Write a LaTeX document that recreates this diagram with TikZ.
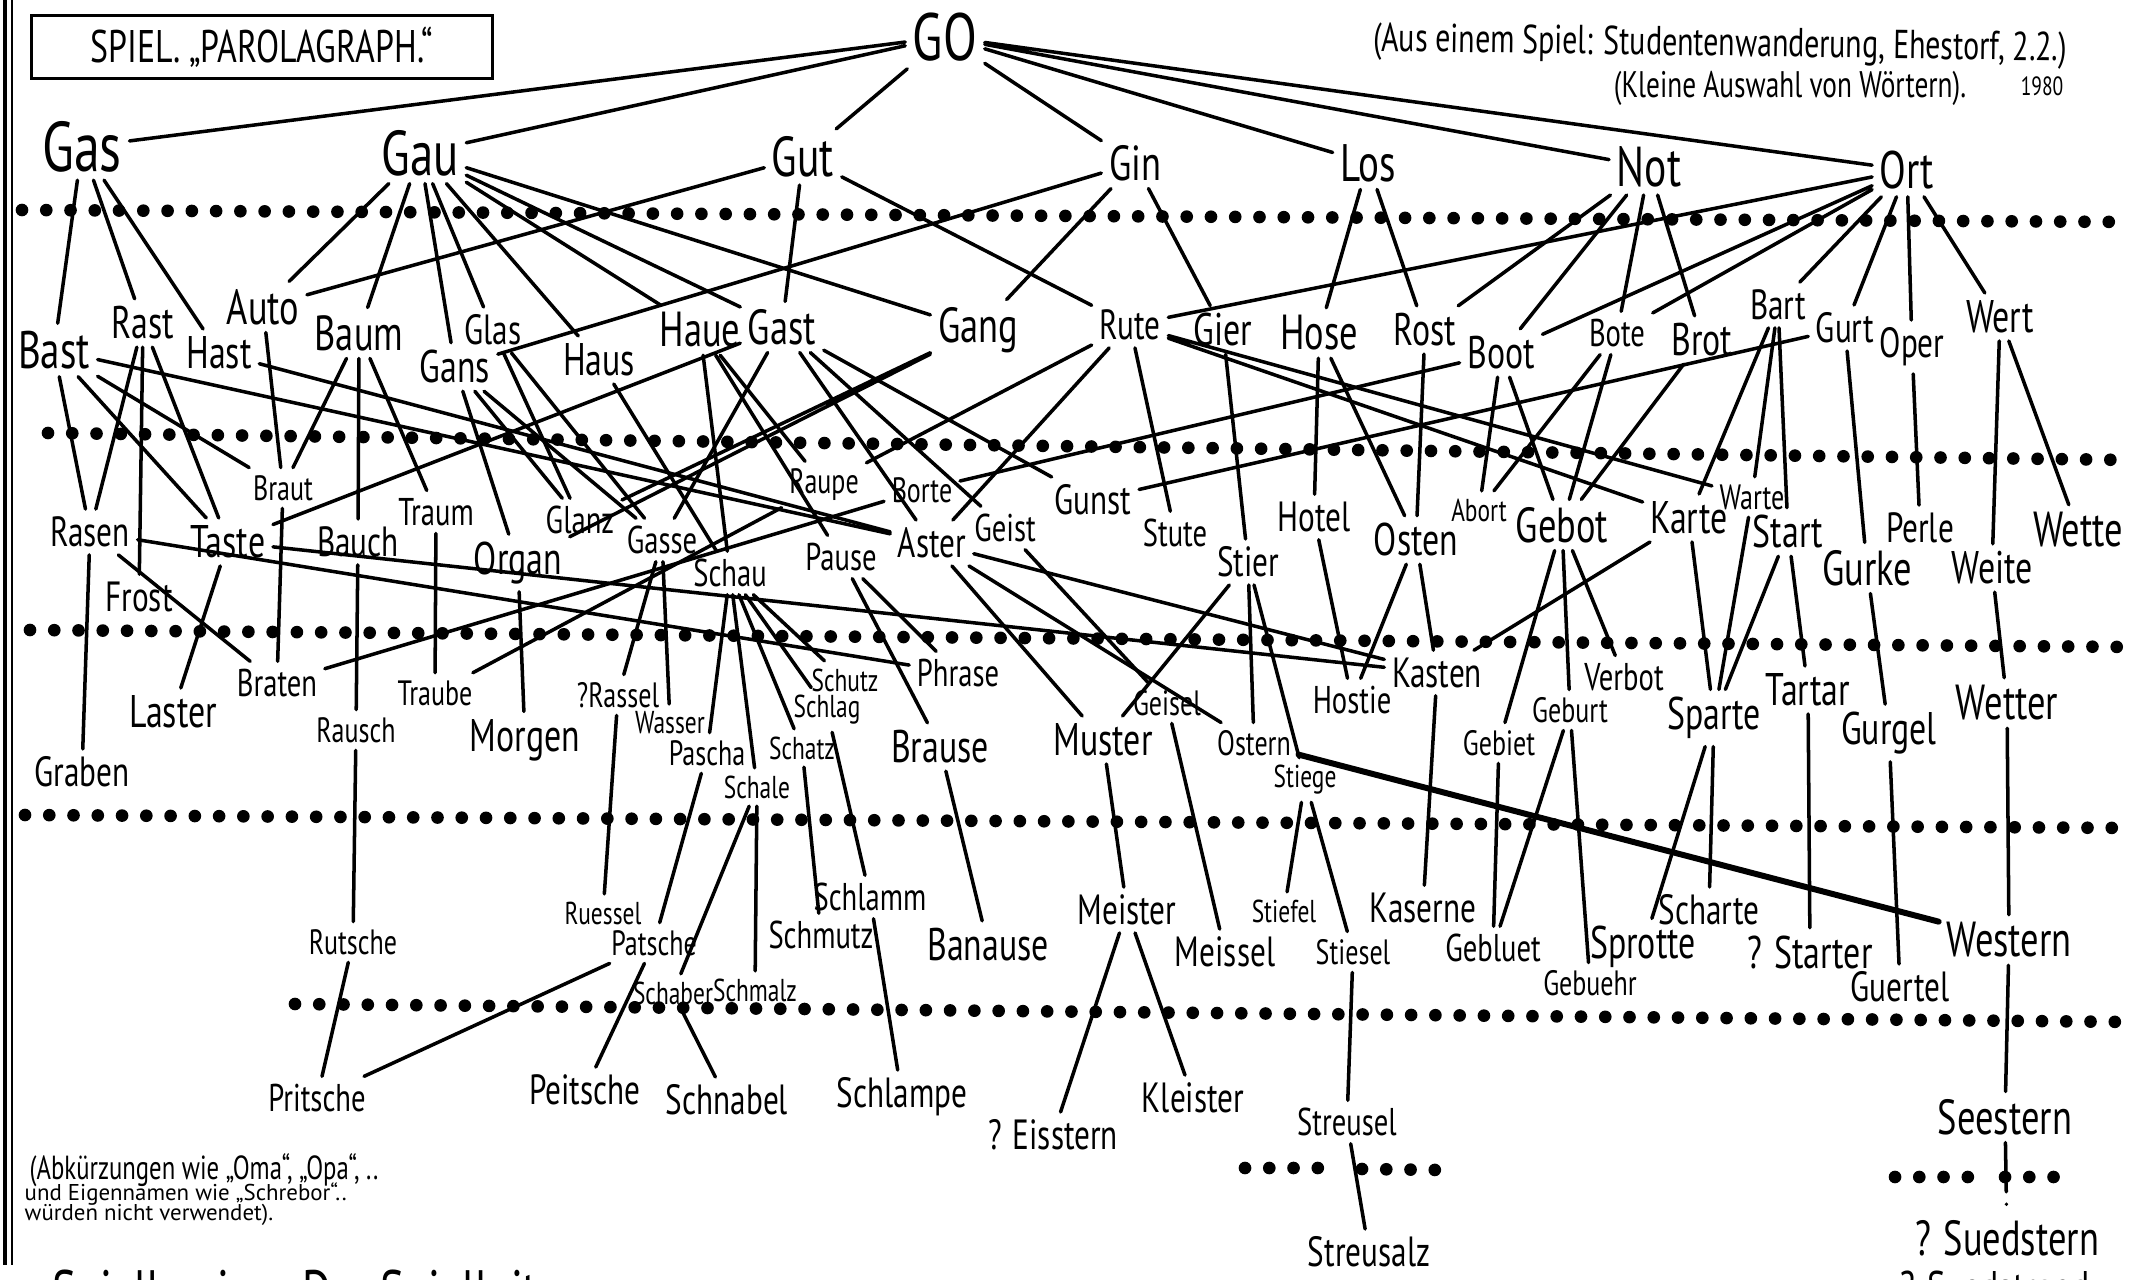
\documentclass[tikz,border=0pt]{standalone}
\usepackage{fontspec}
\setmainfont{PT Sans}[FakeStretch=0.74]
\newfontfamily\plainsans{PT Sans}
\tikzset{
  word/.style={font=\fontsize{#1}{#1}\selectfont, inner sep=2pt},
  link/.style={line width=1pt, line cap=round},
  dotrow/.style={line width=3.6pt, line cap=round, dash pattern=on 0pt off 6.9pt},
}
\begin{document}
\begin{tikzpicture}[x=0.01cm, y=-0.01cm]
  \useasboundingbox (0,0) rectangle (2131,1280);
  \fill[white] (0,0) rectangle (2131,1280);

  % border and title
  \draw[line width=1.3pt] (5,0) -- (5,1265);
  \draw[line width=0.8pt] (12,0) -- (12,1265);
  \node[word=13, draw, line width=1pt, minimum width=4.61cm, minimum height=0.63cm] (title) at (262,47) {SPIEL. „PAROLAGRAPH.“};
  \node[word=11.5, rotate=-0.8] (source) at (1720,46) {(Aus einem Spiel: Studentenwanderung, Ehestorf, 2.2.)};
  \node[word=10.5] (choice) at (1790,88) {(Kleine Auswahl von Wörtern).};
  \node[word=7.5, inner sep=0.5pt] (year) at (2042,86) {1980};

  % dotted rows
  \draw[dotrow] (22,210) -- (2128,222);
  \draw[dotrow] (48,433) -- (2128,460);
  \draw[dotrow] (30,630) -- (2128,647);
  \draw[dotrow] (25,815) -- (2128,828);
  \draw[dotrow] (295,1004) -- (2128,1022);
  \draw[dotrow] (1245,1168) -- (1330,1168) (1362,1169) -- (1440,1170);
  \draw[dotrow] (1895,1177) -- (1978,1177) (2005,1177) -- (2070,1177);

  % words
  \node[word=19] (go) at (945,37) {GO};
  \node[word=20] (gas) at (82,147) {Gas};
  \node[word=18] (gau) at (420,153) {Gau};
  \node[word=16] (gut) at (803,157) {Gut};
  \node[word=14] (gin) at (1135,163) {Gin};
  \node[word=15] (los) at (1368,163) {Los};
  \node[word=16] (not) at (1649,167) {Not};
  \node[word=15] (ort) at (1907,170) {Ort};

  \node[word=15] (bast) at (54,350) {Bast};
  \node[word=13] (rast) at (143,323) {Rast};
  \node[word=13] (hast) at (219,353) {Hast};
  \node[word=14] (auto) at (263,307) {Auto};
  \node[word=14] (baum) at (359,333) {Baum};
  \node[word=12] (glas) at (493,330) {Glas};
  \node[word=13] (gans) at (455,367) {Gans};
  \node[word=13] (haus) at (599,360) {Haus};
  \node[word=14] (haue) at (700,330) {Haue};
  \node[word=14] (gast) at (782,327) {Gast};
  \node[word=14] (gang) at (978,330) {Gang};
  \node[word=12] (rute) at (1130,325) {Rute};
  \node[word=13] (gier) at (1223,330) {Gier};
  \node[word=14] (hose) at (1319,333) {Hose};
  \node[word=13] (rost) at (1425,330) {Rost};
  \node[word=13] (boot) at (1501,353) {Boot};
  \node[word=11] (bote) at (1617,333) {Bote};
  \node[word=13] (brot) at (1702,340) {Brot};
  \node[word=12] (bart) at (1778,305) {Bart};
  \node[word=12] (gurt) at (1845,328) {Gurt};
  \node[word=12] (oper) at (1912,347) {Oper};
  \node[word=13] (wert) at (2000,317) {Wert};

  \node[word=10] (braut) at (283,488) {Braut};
  \node[word=12] (rasen) at (90,532) {Rasen};
  \node[word=13] (taste) at (228,542) {Taste};
  \node[word=12] (frost) at (139,597) {Frost};
  \node[word=12] (bauch) at (358,542) {Bauch};
  \node[word=11] (traum) at (436,512) {Traum};
  \node[word=13] (organ) at (518,563) {Organ};
  \node[word=11] (glanz) at (580,520) {Glanz};
  \node[word=11] (gasse) at (662,540) {Gasse};
  \node[word=11] (schau) at (730,573) {Schau};
  \node[word=10] (raupe) at (824,485) {Raupe};
  \node[word=10] (borte) at (922,490) {Borte};
  \node[word=11] (pause) at (841,557) {Pause};
  \node[word=12] (aster) at (932,543) {Aster};
  \node[word=11] (geist) at (1005,528) {Geist};
  \node[word=12] (gunst) at (1093,500) {Gunst};
  \node[word=11] (stute) at (1175,533) {Stute};
  \node[word=12] (stier) at (1248,562) {Stier};
  \node[word=12] (hotel) at (1314,517) {Hotel};
  \node[word=13] (osten) at (1416,540) {Osten};
  \node[word=9] (abort) at (1479,510) {Abort};
  \node[word=14] (gebot) at (1562,525) {Gebot};
  \node[word=10] (warte) at (1752,497) {Warte};
  \node[word=13] (karte) at (1689,518) {Karte};
  \node[word=13] (start) at (1788,532) {Start};
  \node[word=12] (perle) at (1920,528) {Perle};
  \node[word=14] (wette) at (2078,530) {Wette};
  \node[word=14] (gurke) at (1867,568) {Gurke};
  \node[word=13] (weite) at (1992,568) {Weite};

  \node[word=12] (graben) at (82,772) {Graben};
  \node[word=13] (laster) at (173,712) {Laster};
  \node[word=11] (braten) at (277,683) {Braten};
  \node[word=10] (rausch) at (356,730) {Rausch};
  \node[word=10] (traube) at (435,693) {Traube};
  \node[word=13] (morgen) at (525,740) {Morgen};
  \node[word=10] (rassel) at (618,695) {?Rassel};
  \node[word=9] (wasser) at (670,723) {Wasser};
  \node[word=10] (pascha) at (707,753) {Pascha};
  \node[word=9] (schale) at (757,787) {Schale};
  \node[word=9] (schatz) at (802,748) {Schatz};
  \node[word=9] (schlag) at (827,710) {Schlag};
  \node[word=9] (schutz) at (845,680) {Schutz};
  \node[word=11] (phrase) at (958,673) {Phrase};
  \node[word=13] (brause) at (940,747) {Brause};
  \node[word=13] (muster) at (1103,740) {Muster};
  \node[word=10] (geisel) at (1167,703) {Geisel};
  \node[word=10] (ostern) at (1254,743) {Ostern};
  \node[word=9] (stiege) at (1305,780) {Stiege};
  \node[word=11] (hostie) at (1352,700) {Hostie};
  \node[word=12] (kasten) at (1437,673) {Kasten};
  \node[word=10] (gebiet) at (1499,743) {Gebiet};
  \node[word=10] (geburt) at (1570,710) {Geburt};
  \node[word=11] (verbot) at (1624,677) {Verbot};
  \node[word=13] (sparte) at (1714,718) {Sparte};
  \node[word=13] (tartar) at (1808,690) {Tartar};
  \node[word=13] (gurgel) at (1889,733) {Gurgel};
  \node[word=14] (wetter) at (2007,703) {Wetter};

  \node[word=10] (rutsche) at (353,942) {Rutsche};
  \node[word=9] (ruessel) at (603,913) {Ruessel};
  \node[word=10] (patsche) at (654,943) {Patsche};
  \node[word=9] (schaber) at (673,993) {Schaber};
  \node[word=9] (schmalz) at (755,990) {Schmalz};
  \node[word=11] (schmutz) at (821,935) {Schmutz};
  \node[word=11] (schlamm) at (870,897) {Schlamm};
  \node[word=13] (banause) at (988,945) {Banause};
  \node[word=12] (meister) at (1127,910) {Meister};
  \node[word=12] (meissel) at (1225,952) {Meissel};
  \node[word=9] (stiefel) at (1284,911) {Stiefel};
  \node[word=10] (stiesel) at (1353,952) {Stiesel};
  \node[word=12] (kaserne) at (1423,908) {Kaserne};
  \node[word=11] (gebluet) at (1493,948) {Gebluet};
  \node[word=10] (gebuehr) at (1590,983) {Gebuehr};
  \node[word=12] (scharte) at (1709,910) {Scharte};
  \node[word=13] (sprotte) at (1643,947) {Sprotte};
  \node[word=13] (starter) at (1810,952) {? Starter};
  \node[word=12] (guertel) at (1900,987) {Guertel};
  \node[word=14] (western) at (2009,940) {Western};

  \node[word=11] (pritsche) at (317,1098) {Pritsche};
  \node[word=12] (peitsche) at (585,1090) {Peitsche};
  \node[word=12] (schnabel) at (727,1100) {Schnabel};
  \node[word=12] (schlampe) at (902,1097) {Schlampe};
  \node[word=12] (eisstern) at (1053,1135) {? Eisstern};
  \node[word=12] (kleister) at (1193,1098) {Kleister};
  \node[word=11] (streusel) at (1347,1122) {Streusel};
  \node[word=14] (seestern) at (2005,1117) {Seestern};
  \node[word=12] (streusalz) at (1369,1252) {Streusalz};
  \node[word=14] (suedstern) at (2007,1238) {? Suedstern};
  \node[word=13, anchor=north, inner sep=0pt] (suedstrand) at (1995,1270) {? Suedstrand};

  % notes
  \node[word=9.5, anchor=west] (note1) at (22,1170) {(Abkürzungen wie „Oma“, „Opa“, ..};
  \node[word=6.5, anchor=west, inner sep=0pt] (note2) at (24,1194) {\plainsans und Eigennamen wie „Schrebor“..};
  \node[word=6.5, anchor=west, inner sep=0pt] (note3) at (24,1215) {\plainsans würden nicht verwendet).};
  \node[word=17, anchor=north west] (begin) at (45,1262) {Spielbeginn: Der Spielleiter};

  % connections
  \draw[link] (go) -- (gas) (go) -- (gau) (go) -- (gut) (go) -- (gin)
    (go) -- (los) (go) -- (not) (go) -- (ort);
  \draw[link] (gas) -- (bast) (gas) -- (rast) (gas) -- (hast);
  \draw[link] (gau) -- (auto) (gau) -- (baum) (gau) -- (gans) (gau) -- (glas)
    (gau) -- (haus) (gau) -- (haue) (gau) -- (gast) (gau) -- (gang);
  \draw[link] (gut) -- (auto) (gut) -- (gast) (gut) -- (rute);
  \draw[link] (gin) -- (gans) (gin) -- (gang) (gin) -- (gier);
  \draw[link] (los) -- (hose) (los) -- (rost);
  \draw[link] (not) -- (rost) (not) -- (boot) (not) -- (bote) (not) -- (brot);
  \draw[link] (ort) -- (rute) (ort) -- (boot) (ort) -- (bote) (ort) -- (bart)
    (ort) -- (gurt) (ort) -- (oper) (ort) -- (wert);

  \draw[link] (bast) -- (rasen) (bast) -- (taste) (bast) -- (braut) (bast) -- (aster);
  \draw[link] (rast) -- (rasen) (rast) -- (frost) (rast) -- (taste);
  \draw[link] (hast) -- (aster) (auto) -- (braut);
  \draw[link] (baum) -- (braut) (baum) -- (bauch) (baum) -- (traum);
  \draw[link] (glas) -- (glanz) (glas) -- (gasse);
  \draw[link] (gans) -- (glanz) (gans) -- (gasse) (gans) -- (organ);
  \draw[link] (haus) -- (schau);
  \draw[link] (haue) -- (schau) (haue) -- (raupe) (haue) -- (pause);
  \draw[link] (gast) -- (taste) (gast) -- (gasse) (gast) -- (aster) (gast) -- (geist)
    (gast) -- (gunst);
  \draw[link] (gang) -- (organ) (gang) -- (glanz);
  \draw[link] (rute) -- (raupe) (rute) -- (aster) (rute) -- (stute) (rute) -- (warte)
    (rute) -- (karte);
  \draw[link] (gier) -- (stier);
  \draw[link] (hose) -- (hotel) (hose) -- (osten) (rost) -- (osten);
  \draw[link] (boot) -- (borte) (boot) -- (abort) (boot) -- (gebot);
  \draw[link] (bote) -- (abort) (bote) -- (gebot) (brot) -- (gebot);
  \draw[link] (bart) -- (karte) (bart) -- (warte) (bart) -- (start);
  \draw[link] (gurt) -- (gunst) (gurt) -- (gurke) (oper) -- (perle);
  \draw[link] (wert) -- (weite) (wert) -- (wette);

  \draw[link] (rasen) -- (graben) (rasen) -- (braten) (rasen) -- (phrase);
  \draw[link] (taste) -- (laster) (taste) -- (kasten);
  \draw[link] (braut) -- (braten) (borte) -- (braten);
  \draw[link] (bauch) -- (rausch) (traum) -- (traube) (raupe) -- (traube);
  \draw[link] (organ) -- (morgen);
  \draw[link] (gasse) -- (rassel) (gasse) -- (wasser);
  \draw[link] (schau) -- (pascha) (schau) -- (schale) (schau) -- (schatz)
    (schau) -- (schlag) (schau) -- (schutz);
  \draw[link] (pause) -- (phrase) (pause) -- (brause);
  \draw[link] (aster) -- (kasten) (aster) -- (ostern) (aster) -- (muster);
  \draw[link] (geist) -- (geisel);
  \draw[link] (stier) -- (muster) (stier) -- (ostern) (stier) -- (stiege);
  \draw[link] (hotel) -- (hostie) (osten) -- (hostie) (osten) -- (kasten);
  \draw[link] (karte) -- (kasten) (karte) -- (sparte) (warte) -- (sparte);
  \draw[link] (start) -- (sparte) (start) -- (tartar);
  \draw[link] (gebot) -- (gebiet) (gebot) -- (geburt) (gebot) -- (verbot);
  \draw[link] (gurke) -- (gurgel) (weite) -- (wetter);

  \draw[link] (rausch) -- (rutsche) (rassel) -- (ruessel) (pascha) -- (patsche);
  \draw[link] (schale) -- (schaber) (schale) -- (schmalz);
  \draw[link] (schatz) -- (schmutz) (schlag) -- (schlamm) (brause) -- (banause);
  \draw[link] (muster) -- (meister) (geisel) -- (meissel);
  \draw[link] (stiege) -- (stiefel) (stiege) -- (stiesel);
  \draw[link, line width=1.7pt] (ostern) -- (western);
  \draw[link] (kasten) -- (kaserne) (gebiet) -- (gebluet);
  \draw[link] (geburt) -- (gebluet) (geburt) -- (gebuehr);
  \draw[link] (sparte) -- (sprotte) (sparte) -- (scharte);
  \draw[link] (tartar) -- (starter) (gurgel) -- (guertel) (wetter) -- (western);

  \draw[link] (rutsche) -- (pritsche) (patsche) -- (pritsche) (patsche) -- (peitsche);
  \draw[link] (schaber) -- (schnabel) (schlamm) -- (schlampe);
  \draw[link] (meister) -- (eisstern) (meister) -- (kleister);
  \draw[link] (stiesel) -- (streusel) (western) -- (seestern);
  \draw[link] (streusel) -- (streusalz);
  \draw[link, dash pattern=on 8pt off 3.5pt on 2.5pt off 3.5pt on 0.1pt off 20pt] (seestern) -- (suedstern);
\end{tikzpicture}
\end{document}
